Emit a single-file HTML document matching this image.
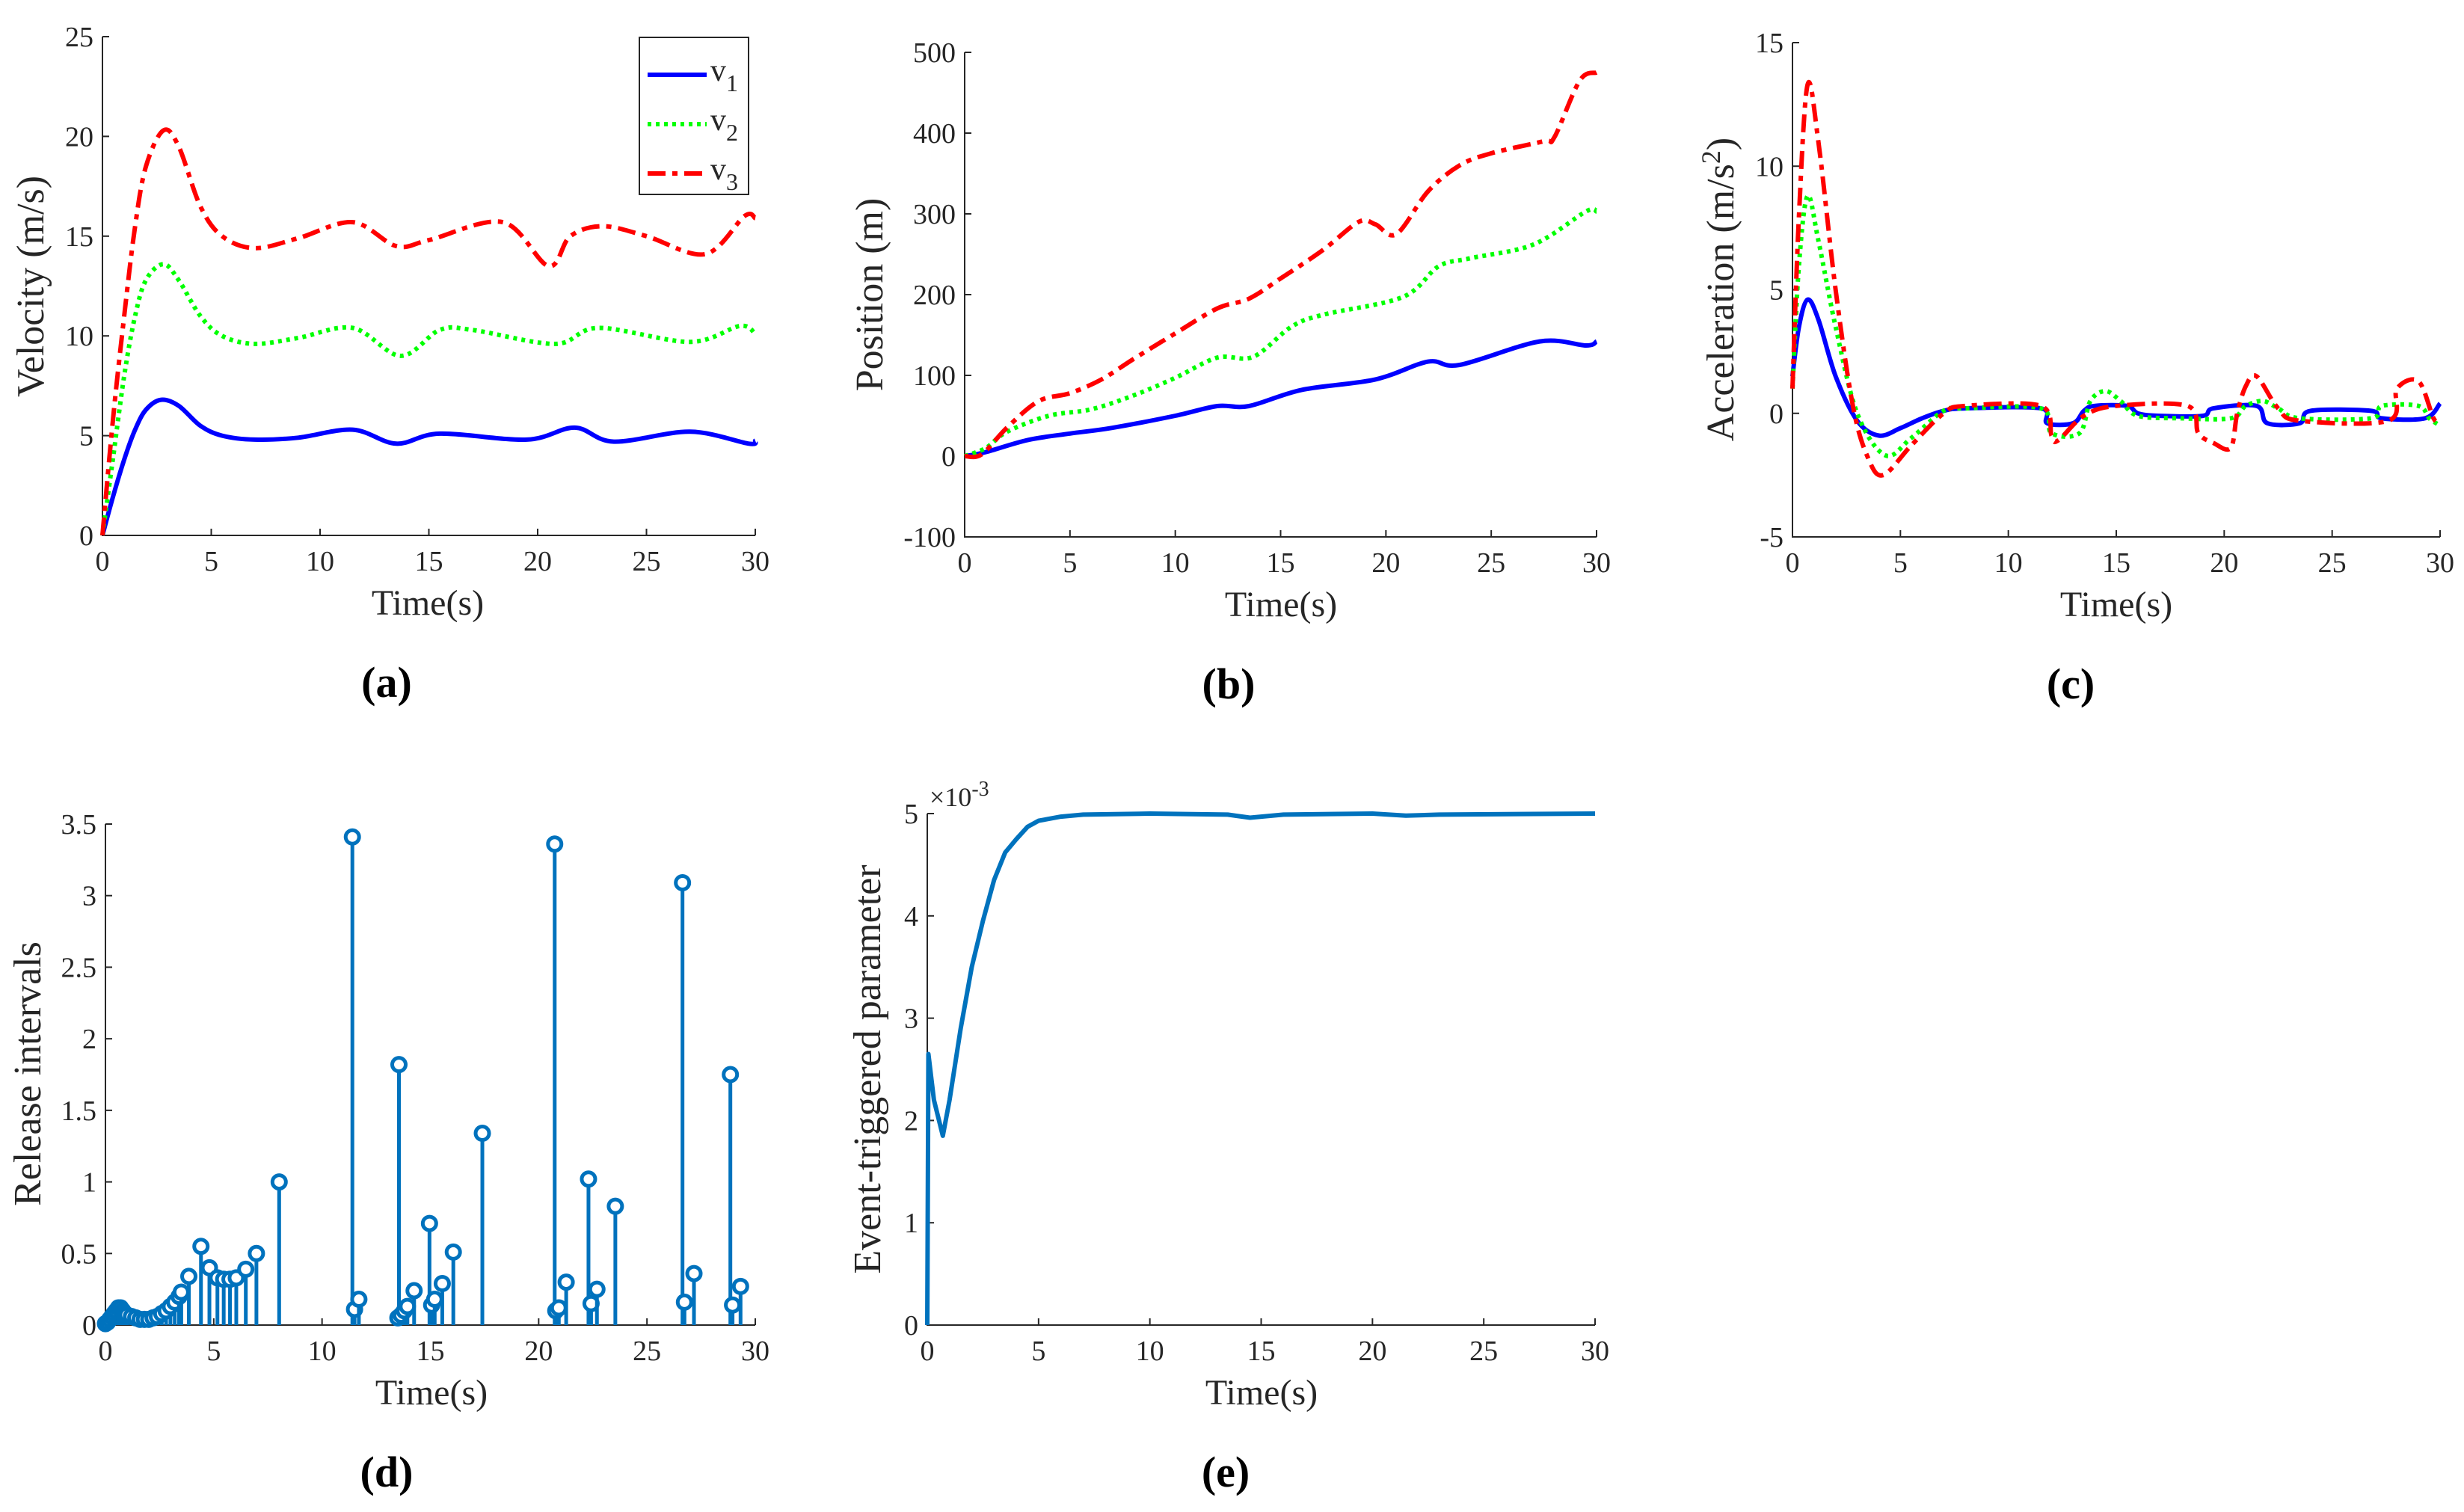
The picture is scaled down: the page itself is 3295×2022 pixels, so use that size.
<!DOCTYPE html>
<html><head><meta charset="utf-8"><style>
html,body{margin:0;padding:0;background:#fff;}
svg{display:block;}
text{font-family:"Liberation Serif",serif;fill:#262626;}
</style></head><body>
<svg id="fig" width="3295" height="2022" viewBox="0 0 3295 2022" xmlns="http://www.w3.org/2000/svg"></svg>
<script>
// ---- data ----
const velT1=[0,0.5,1,1.5,2,2.7,3.5,4.5,5.5,7,9,11.5,13.5,15.5,19.5,21.7,23.5,27,29.7,30];
const velV1=[0,2,3.8,5.3,6.3,6.8,6.5,5.5,5,4.8,4.9,5.3,4.6,5.1,4.8,5.4,4.7,5.2,4.6,4.75];
const velT2=[0,0.5,1,1.5,2,2.8,3.5,4.5,5.5,7,9,11.5,13.7,15.5,17,20.8,22.8,27,29.3,30];
const velV2=[0,4,8,11,12.8,13.6,12.8,11,10,9.6,9.9,10.4,9,10.3,10.3,9.6,10.4,9.7,10.5,10.1];
const velT3=[0,0.5,1,1.5,2,2.8,3.5,4.5,5.5,7,9,11.5,13.5,15,18.4,20.5,21.5,23,25,27.7,29.5,30];
const velV3=[0,6,11,15.5,18.5,20.3,19.5,16.5,15,14.4,14.9,15.7,14.5,14.8,15.7,13.5,15,15.5,15,14.1,16,15.9];

const posT1=[0,1,3,5,7,10,12,13.5,16,19.5,22,23.5,27.3,29.5,30];
const posP1=[0,5,20,28,35,50,62,62,82,95,117,113,142,137,142];
const posT2=[0,1,2,4,6,8,10,12,13.7,15.5,17,20.8,22.5,24,27,29.5,30];
const posP2=[0,10,30,50,58,75,97,122,123,160,175,197,235,245,262,303,303];
const posT3=[0,0.8,2,3.5,5,6.5,8,10,12,13.5,15,17,18.7,19.5,20.5,22,23.5,25,27.5,28,29.2,30];
const posP3=[0,2,35,68,78,95,120,152,183,195,220,255,290,287,275,328,360,375,390,395,465,475];

const accT1=[0,0.3,0.7,1.2,2,3,4,5,6,7,8,11.5,11.8,13,13.5,14,15.5,16,17,19,19.5,21.5,22,23.5,24,26.8,27.3,29.3,30];
const accA1=[1.5,3.5,4.6,3.8,1.5,-0.3,-0.9,-0.6,-0.2,0.1,0.2,0.2,-0.4,-0.4,0.1,0.3,0.3,0,-0.1,-0.1,0.2,0.3,-0.4,-0.4,0.1,0.1,-0.2,-0.2,0.4];
const accT2=[0,0.3,0.7,1.2,2,3,4.3,5.5,7,8,11.5,12,13.3,13.8,14.5,15.2,16,18,20.3,21,21.8,22.5,23.5,26.8,27.3,29,29.5,30];
const accA2=[1,6,8.8,7,3.5,0,-1.7,-1,0.1,0.2,0.2,-0.8,-0.8,0.5,0.9,0.5,-0.1,-0.2,-0.2,0.3,0.5,0.2,-0.2,-0.2,0.3,0.3,-0.2,-0.5];
const accT3=[0,0.3,0.7,1.2,2,2.8,3.5,4.2,5.5,7,8,11.5,12,12.3,13.5,15,18.3,18.8,19.5,20.3,20.6,21,21.5,22.5,23.5,27.6,28,29,29.7,30];
const accA3=[1,8,13.3,11,5,0.3,-1.8,-2.5,-1.3,0,0.3,0.3,-0.9,-1.1,-0.1,0.3,0.3,-0.8,-1.2,-1.4,0,1.1,1.5,0.2,-0.3,-0.3,1,1.3,-0.2,-0.3];

const relT=[0,0.1,0.2,0.3,0.4,0.5,0.6,0.7,0.8,0.9,1.0,1.2,1.4,1.6,1.8,2.0,2.2,2.4,2.6,2.8,3.0,3.2,3.4,3.5,3.85,4.41,4.8,5.17,5.46,5.75,6.04,6.48,6.97,8.02,11.4,11.5,11.7,13.5,13.55,13.65,13.8,13.94,14.25,14.96,15.06,15.2,15.55,16.06,17.4,20.74,20.79,20.93,21.27,22.3,22.42,22.69,23.54,26.64,26.73,27.17,28.85,28.95,29.32];
const relV=[0.01,0.02,0.04,0.06,0.08,0.1,0.12,0.12,0.1,0.08,0.07,0.06,0.05,0.04,0.04,0.04,0.05,0.06,0.08,0.1,0.13,0.16,0.2,0.23,0.34,0.55,0.4,0.33,0.32,0.32,0.33,0.39,0.5,1.0,3.41,0.11,0.18,0.05,1.82,0.07,0.1,0.13,0.24,0.71,0.14,0.18,0.29,0.51,1.34,3.36,0.1,0.12,0.3,1.02,0.15,0.25,0.83,3.09,0.16,0.36,1.75,0.14,0.27];

const etT=[0,0.05,0.3,0.7,1,1.5,2,2.5,3,3.5,4,4.5,5,6,7,10,13.5,14.5,16,20,21.5,23,30];
const etV=[0,2.65,2.2,1.85,2.2,2.9,3.5,3.95,4.35,4.62,4.75,4.87,4.93,4.97,4.99,5,4.99,4.96,4.99,5,4.98,4.99,5];

const svg=document.getElementById('fig');
const NS='http://www.w3.org/2000/svg';
function mk(tag,attrs,parent){const e=document.createElementNS(NS,tag);for(const k in attrs)e.setAttribute(k,attrs[k]);(parent||svg).appendChild(e);return e;}

function axes(name,x0,x1,yb,yt,ymin,ymax,yticks,ylabels,ytitle,ytx,yty,xtx,caption,capx){
  const g=mk('g',{});
  
  
  const sx=t=>x0+(t/30)*(x1-x0);
  const sy=v=>yb-(v-ymin)/(ymax-ymin)*(yb-yt);
  const ax=mk('path',{d:`M${x0},${yt} L${x0},${yb} L${x1},${yb}`,fill:'none',stroke:'#262626','stroke-width':2},g);
  
  
  for(let t=0;t<=30;t+=5){
    mk('line',{x1:sx(t),x2:sx(t),y1:yb,y2:yb-9,stroke:'#262626','stroke-width':2},g);
    const tl=mk('text',{x:sx(t),y:yb+47,'font-size':38,'text-anchor':'middle'},g);
    tl.textContent=String(t);
    
    
  }
  yticks.forEach((v,i)=>{
    mk('line',{x1:x0,x2:x0+9,y1:sy(v),y2:sy(v),stroke:'#262626','stroke-width':2},g);
    const tl=mk('text',{x:x0-12,y:sy(v)+13,'font-size':38,'text-anchor':'end'},g);
    tl.textContent=ylabels[i];
    
    
  });
  const yt2=mk('text',{x:ytx,y:yty,'font-size':52,'text-anchor':'middle',transform:`rotate(-90 ${ytx} ${yty})`},g);
  yt2.innerHTML=ytitle;
  
  
  const xt=mk('text',{x:xtx,y:yb+106,'font-size':48,'text-anchor':'middle'},g);
  xt.textContent='Time(s)';
  
  
  const cp=mk('text',{x:capx,y:yb+216,'font-size':58,'text-anchor':'middle','font-weight':'bold',style:'fill:#000'},g);
  cp.textContent=caption;
  
  
  return {g,sx,sy};
}
function smoothPath(P){
  let d='M'+P[0][0].toFixed(1)+','+P[0][1].toFixed(1);
  for(let i=0;i<P.length-1;i++){
    const p0=P[i-1]||P[i],p1=P[i],p2=P[i+1],p3=P[i+2]||P[i+1];
    const c1=[p1[0]+(p2[0]-p0[0])/6,p1[1]+(p2[1]-p0[1])/6];
    const c2=[p2[0]-(p3[0]-p1[0])/6,p2[1]-(p3[1]-p1[1])/6];
    d+=` C${c1[0].toFixed(1)},${c1[1].toFixed(1)} ${c2[0].toFixed(1)},${c2[1].toFixed(1)} ${p2[0].toFixed(1)},${p2[1].toFixed(1)}`;
  }
  return d;
}
function line(ax,T,V,color,dash,name,straight){
  const P=T.map((t,i)=>[ax.sx(t),ax.sy(V[i])]);
  const d=straight?P.map((p,i)=>(i?'L':'M')+p[0].toFixed(1)+','+p[1].toFixed(1)).join(' '):smoothPath(P);
  const p=mk('path',{d,fill:'none',stroke:color,'stroke-width':6,'stroke-linejoin':'round','stroke-dasharray':dash||'none'},ax.g);
  
  
}
const BLUE='#0000ff',GREEN='#00ff00',RED='#ff0000';
const DOT='5 6',DASHDOT='24 9 7 9';

// (a)
const A=axes('velocity-panel',137,1010,716,49,0,25,[0,5,10,15,20,25],['0','5','10','15','20','25'],'Velocity (m/s)',58,383,572,'(a)',517);
line(A,velT1,velV1,BLUE,null,'v1-line');
line(A,velT2,velV2,GREEN,DOT,'v2-line');
line(A,velT3,velV3,RED,DASHDOT,'v3-line');
const lg=mk('g',{},A.g);


mk('rect',{x:855,y:50,width:146,height:210,fill:'#fff',stroke:'#262626','stroke-width':2},lg);
[['1',BLUE,null],['2',GREEN,DOT],['3',RED,DASHDOT]].forEach((e,i)=>{
  const y=100+i*66;
  mk('line',{x1:866,x2:945,y1:y,y2:y,stroke:e[1],'stroke-width':6,'stroke-dasharray':e[2]||'none'},lg);
  const t=mk('text',{x:950,y:y+8,'font-size':42},lg);
  t.innerHTML='v<tspan dy="14" font-size="32">'+e[0]+'</tspan>';
  
  
});

// (b)
const B=axes('position-panel',1290,2135,718,70,-100,500,[-100,0,100,200,300,400,500],['-100','0','100','200','300','400','500'],'Position (m)',1180,394,1713,'(b)',1643);
line(B,posT1,posP1,BLUE,null,'p1-line');
line(B,posT2,posP2,GREEN,DOT,'p2-line');
line(B,posT3,posP3,RED,DASHDOT,'p3-line');

// (c)
const C=axes('acceleration-panel',2397,3263,718,57,-5,15,[-5,0,5,10,15],['-5','0','5','10','15'],'Acceleration (m/s<tspan dy="-18" font-size="36">2</tspan><tspan dy="18">)</tspan>',2318,387,2830,'(c)',2769);
line(C,accT1,accA1,BLUE,null,'a1-line');
line(C,accT2,accA2,GREEN,DOT,'a2-line');
line(C,accT3,accA3,RED,DASHDOT,'a3-line');

// (d)
const D=axes('release-intervals-panel',141,1010,1772,1102,0,3.5,[0,0.5,1,1.5,2,2.5,3,3.5],['0','0.5','1','1.5','2','2.5','3','3.5'],'Release intervals',54,1436,577,'(d)',517);
relT.forEach((t,i)=>{
  const st=mk('line',{x1:D.sx(t),x2:D.sx(t),y1:D.sy(0),y2:D.sy(relV[i]),stroke:'#0072bd','stroke-width':5},D.g);
  
  
  const c=mk('circle',{cx:D.sx(t),cy:D.sy(relV[i]),r:9,fill:'#fff',stroke:'#0072bd','stroke-width':5},D.g);
  
  
});

// (e)
const E=axes('event-triggered-panel',1240,2133,1772,1088,0,5,[0,1,2,3,4,5],['0','1','2','3','4','5'],'Event-triggered parameter',1177,1430,1687,'(e)',1639);
line(E,etT,etV,'#0072bd',null,'event-parameter-line',true);
const ex=mk('text',{x:1243,y:1078,'font-size':36},E.g);
ex.innerHTML='×10<tspan dy="-14" font-size="28">-3</tspan>';


</script>
</body></html>
